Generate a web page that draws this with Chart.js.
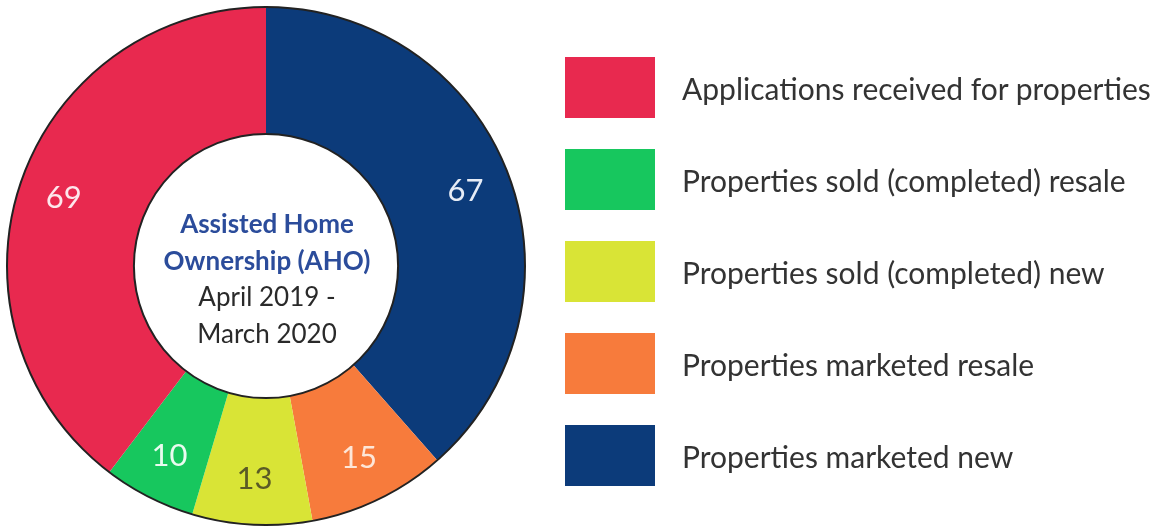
<!DOCTYPE html>
<html>
<head>
<meta charset="utf-8">
<script src="https://cdn.jsdelivr.net/npm/chart.js@4.4.1/dist/chart.umd.min.js"></script>
<style>
  html, body { margin: 0; padding: 0; background: #ffffff; }
  #wrap { position: relative; width: 1157px; height: 528px; overflow: hidden; font-family: Lato, "Open Sans", sans-serif; }
  #chart { position: absolute; left: 0; top: 0; }
  #centerText { position: absolute; left: 136px; top: 205px; width: 262px; text-align: center; font-size: 26px; line-height: 36.5px; color: #2a2a2a; }
  #centerText .title { color: #2b4c9b; font-weight: bold; }
  #legend { position: absolute; left: 565px; top: 57px; margin: 0; padding: 0; list-style: none; }
  #legend li { display: flex; align-items: center; height: 61px; margin-bottom: 31px; }
  #legend .box { width: 90px; height: 61px; margin-right: 27px; flex: none; }
  #legend .txt { font-size: 30px; color: #333333; white-space: nowrap; }
</style>
</head>
<body>
<div id="wrap">
  <canvas id="chart" width="1157" height="528"></canvas>
  <div id="centerText">
    <div class="title">Assisted Home</div>
    <div class="title">Ownership (AHO)</div>
    <div>April 2019 -</div>
    <div>March 2020</div>
  </div>
  <ul id="legend"></ul>
</div>
<script>
// legend order (as in the picture)
const categories = [
  'Applications received for properties',
  'Properties sold (completed) resale',
  'Properties sold (completed) new',
  'Properties marketed resale',
  'Properties marketed new'
];
const counts = [69, 10, 13, 15, 67];
const sliceColors = ['#e8294f', '#17c75e', '#d9e436', '#f77b3c', '#0c3b7a'];
const labelColors = ['#fde7ec', '#eafbf0', '#5a5a26', '#fde6d8', '#e6ecf6'];

// the ring runs clockwise from 12 o'clock starting with the last category
const ringLabels = categories.slice().reverse();
const ringValues = counts.slice().reverse();
const ringColors = sliceColors.slice().reverse();
const ringTextColors = labelColors.slice().reverse();

document.addEventListener('DOMContentLoaded', function () {
  buildLegend();
  createChart();
});

function buildLegend() {
  const ul = document.getElementById('legend');
  categories.forEach((name, i) => {
    const li = document.createElement('li');
    li.innerHTML = '<span class="box" style="background:' + sliceColors[i] + '"></span>' +
      '<span class="txt">' + name + '</span>';
    ul.appendChild(li);
  });
}

// value labels placed in the ring + outline circles
const ringExtras = {
  id: 'ringExtras',
  afterDatasetsDraw(chart) {
    const ctx = chart.ctx;
    const arcs = chart.getDatasetMeta(0).data;
    if (!arcs.length) return;
    const a0 = arcs[0];
    ctx.save();
    ctx.strokeStyle = '#222222';
    ctx.lineWidth = 2;
    ctx.beginPath();
    ctx.arc(a0.x, a0.y, a0.outerRadius, 0, Math.PI * 2);
    ctx.stroke();
    ctx.beginPath();
    ctx.arc(a0.x, a0.y, a0.innerRadius, 0, Math.PI * 2);
    ctx.stroke();

    ctx.font = '31px Lato, "Open Sans", sans-serif';
    ctx.textAlign = 'center';
    ctx.textBaseline = 'middle';
    arcs.forEach((arc, i) => {
      const mid = (arc.startAngle + arc.endAngle) / 2;
      const r = arc.innerRadius + (arc.outerRadius - arc.innerRadius) * 0.64;
      ctx.fillStyle = ringTextColors[i];
      ctx.fillText(String(ringValues[i]), arc.x + Math.cos(mid) * r, arc.y + Math.sin(mid) * r);
    });
    ctx.restore();
  }
};

function createChart() {
  const ctx = document.getElementById('chart');
  new Chart(ctx, {
    type: 'doughnut',
    data: {
      labels: ringLabels,
      datasets: [{
        data: ringValues,
        backgroundColor: ringColors,
        borderWidth: 0
      }]
    },
    options: {
      responsive: false,
      animation: false,
      cutout: '51%',
      layout: { padding: { left: 7, top: 7, right: 632, bottom: 3 } },
      plugins: {
        legend: { display: false },
        tooltip: { enabled: false }
      }
    },
    plugins: [ringExtras]
  });
}
</script>
</body>
</html>
